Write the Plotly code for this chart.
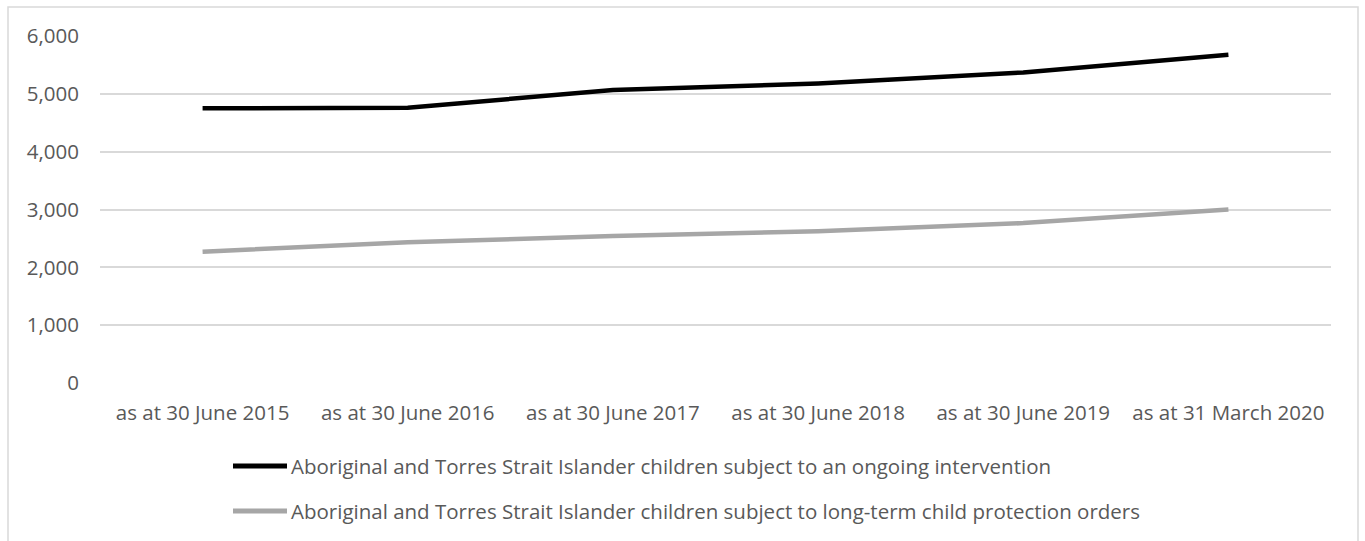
import plotly.graph_objects as go

# Reporting dates (category axis)
periods = [
    "as at 30 June 2015",
    "as at 30 June 2016",
    "as at 30 June 2017",
    "as at 30 June 2018",
    "as at 30 June 2019",
    "as at 31 March 2020",
]

# Number of Aboriginal and Torres Strait Islander children
ongoing_intervention = [4750, 4760, 5065, 5180, 5370, 5675]
long_term_orders = [2270, 2435, 2540, 2625, 2765, 3000]

series_names = [
    "Aboriginal and Torres Strait Islander children subject to an ongoing intervention",
    "Aboriginal and Torres Strait Islander children subject to long-term child protection orders",
]
series_colors = ["#000000", "#a6a6a6"]

y_ticks = [0, 1000, 2000, 3000, 4000, 5000, 6000]

FONT = "Open Sans"
TEXT_COLOR = "#595959"
FONT_SIZE = 20.5

fig = go.Figure()
for name, values, color in zip(series_names, [ongoing_intervention, long_term_orders], series_colors):
    fig.add_trace(
        go.Scatter(
            x=periods,
            y=values,
            mode="lines",
            name=name,
            line=dict(color=color, width=4.5),
            showlegend=False,
        )
    )

W, H = 1365, 541
L, R, T, B = 100, 34, 36, 158
plot_w = W - L - R
plot_h = H - T - B


def px_x(x):
    return (x - L) / plot_w


def px_y(y):
    return (H - B - y) / plot_h


shapes = [
    # outer chart frame
    dict(
        type="rect",
        xref="paper", yref="paper",
        x0=px_x(8), x1=px_x(1358), y0=px_y(560), y1=px_y(7),
        line=dict(color="#d9d9d9", width=1.5),
        fillcolor="rgba(0,0,0,0)",
        layer="below",
    )
]
annotations = []

# legend keys drawn below the axis
legend_rows = [466, 511]
for name, color, row in zip(series_names, series_colors, legend_rows):
    shapes.append(
        dict(
            type="line",
            xref="paper", yref="paper",
            x0=px_x(233), x1=px_x(287), y0=px_y(row), y1=px_y(row),
            line=dict(color=color, width=5),
        )
    )
    annotations.append(
        dict(
            xref="paper", yref="paper",
            x=px_x(289), y=px_y(row),
            xanchor="left", yanchor="middle",
            text=name, showarrow=False,
            font=dict(family=FONT, size=FONT_SIZE, color=TEXT_COLOR),
        )
    )

fig.update_layout(
    width=W,
    height=H,
    margin=dict(l=L, r=R, t=T, b=B, autoexpand=False),
    paper_bgcolor="white",
    plot_bgcolor="white",
    font=dict(family=FONT, size=FONT_SIZE, color=TEXT_COLOR),
    shapes=shapes,
    annotations=annotations,
    xaxis=dict(
        type="category",
        range=[-0.5, len(periods) - 0.5],
        automargin=False,
        showgrid=False,
        showline=False,
        zeroline=False,
        ticks="",
        ticklabelstandoff=15,
        tickfont=dict(family=FONT, size=FONT_SIZE, color=TEXT_COLOR),
    ),
    yaxis=dict(
        range=[0, 6000],
        tickvals=y_ticks,
        tickformat=",d",
        automargin=False,
        showgrid=True,
        gridcolor="#d9d9d9",
        gridwidth=1.5,
        zeroline=False,
        showline=False,
        ticks="",
        ticklabelstandoff=20,
        tickfont=dict(family=FONT, size=FONT_SIZE, color=TEXT_COLOR),
    ),
)

fig.write_html("out.html")
